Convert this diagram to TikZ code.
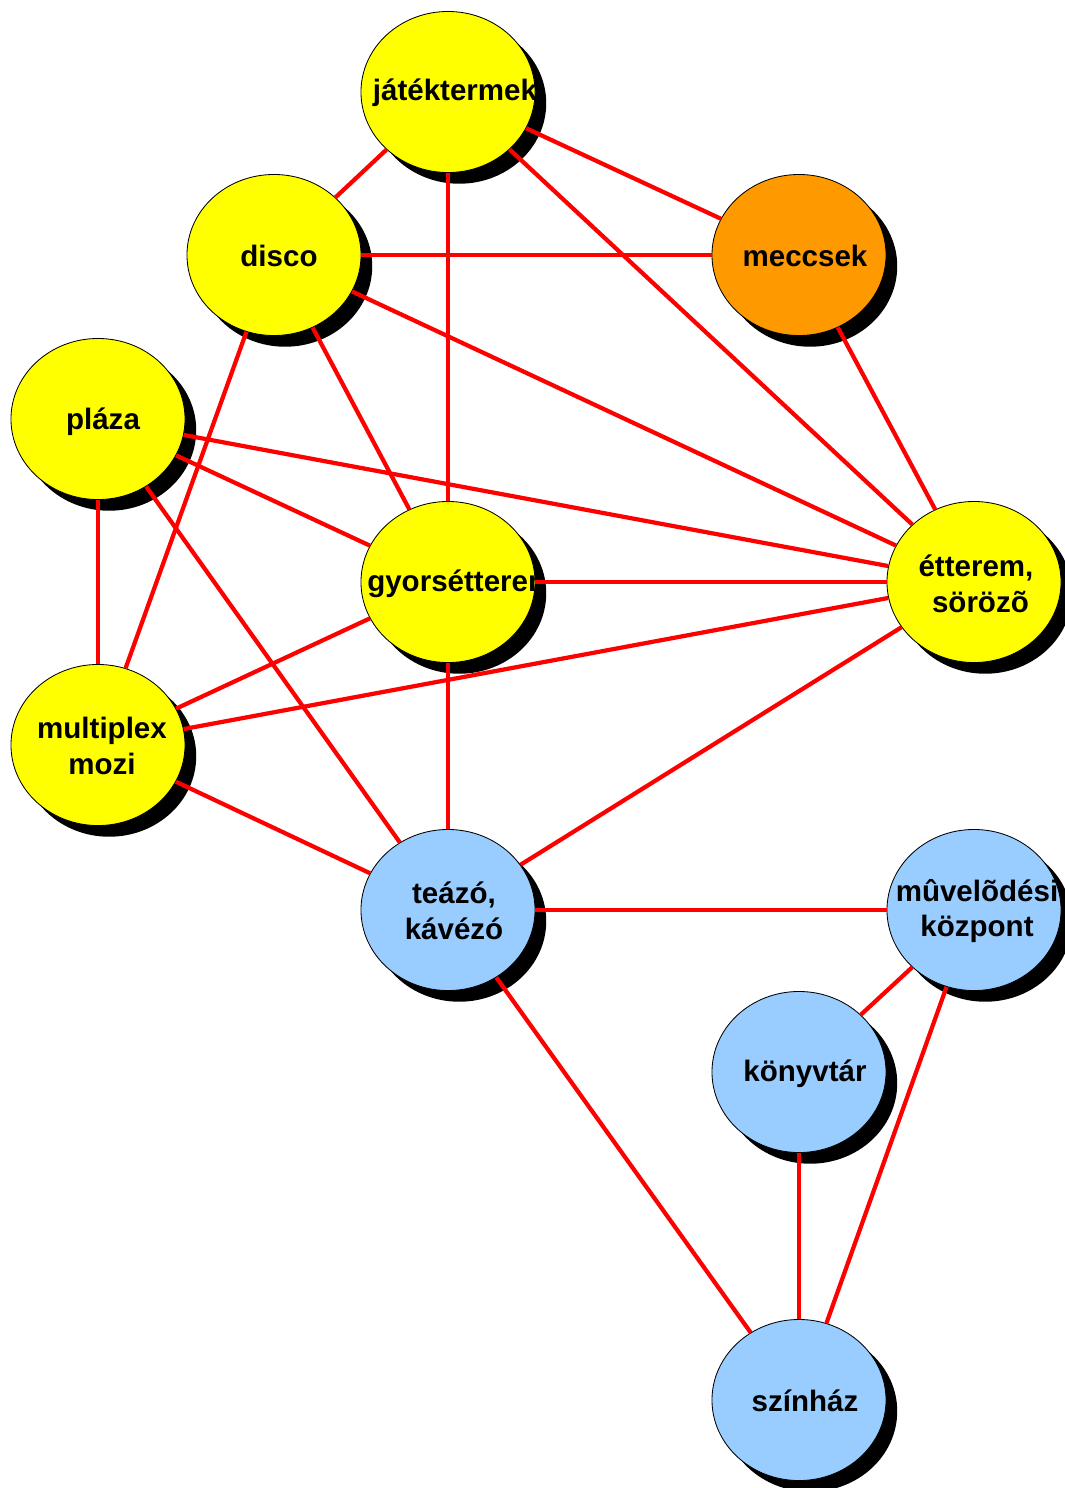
\documentclass[tikz,border=0pt]{standalone}
\usepackage{fontspec}
\setmainfont{Liberation Sans}
\definecolor{placeyellow}{RGB}{255, 255, 0}
\definecolor{placeorange}{RGB}{255, 153, 0}
\definecolor{placeblue}{RGB}{153, 204, 255}
\usetikzlibrary{shapes.geometric, shadows}

\begin{document}
\begin{tikzpicture}[x=0.025cm, y=-0.025cm]
  \tikzstyle{place} = [ellipse, draw, line width=0.6pt, minimum width=4.35cm, minimum height=4.025cm, inner sep=0pt,
    drop shadow={shadow xshift=0.28cm, shadow yshift=-0.28cm, fill=black, opacity=1}]
  \tikzstyle{placelbl} = [align=center, inner sep=0pt, font=\bfseries\fontsize{21}{25.5}\selectfont]
  \tikzstyle{line} = [draw, red, line width=3pt]

  \useasboundingbox (0,0) rectangle (1065,1488);

  % places
  \node [place, fill=placeyellow] (jatek) at (448,92) {};
  \node [place, fill=placeyellow] (disco) at (274,255) {};
  \node [place, fill=placeorange] (meccs) at (799,255) {};
  \node [place, fill=placeyellow] (plaza) at (98,419) {};
  \node [place, fill=placeyellow] (gyors) at (448,582) {};
  \node [place, fill=placeyellow] (etter) at (974,582) {};
  \node [place, fill=placeyellow] (multi) at (98,745) {};
  \node [place, fill=placeblue] (teazo) at (448,910) {};
  \node [place, fill=placeblue] (muvel) at (974,910) {};
  \node [place, fill=placeblue] (konyv) at (799,1072) {};
  \node [place, fill=placeblue] (szinh) at (799,1400) {};

  % labels
  \node [placelbl] (jateklbl) at (455,93) {játéktermek};
  \node [placelbl] (discolbl) at (279,256) {disco};
  \node [placelbl] (meccslbl) at (805,256) {meccsek};
  \node [placelbl] (plazalbl) at (103,422) {pláza};
  \begin{scope}
    \clip (340,530) rectangle (540,640);
    \node [placelbl, anchor=west] (gyorslbl) at (367,584) {gyorsétterem};
  \end{scope}
  \node [placelbl] (etterlbl) at (976,584) {étterem,\\\hspace*{0.3em}sörözõ};
  \node [placelbl] (multilbl) at (102,746) {multiplex\\mozi};
  \node [placelbl] (teazolbl) at (454,911) {teázó,\\kávézó};
  \node [placelbl] (muvellbl) at (977,911) {mûvelõdési\\központ};
  \node [placelbl] (konyvlbl) at (805,1074) {könyvtár};
  \node [placelbl] (szinhlbl) at (805,1401) {színház};

  % connections
  \path [line] (jatek) -- (disco);
  \path [line] (jatek) -- (meccs);
  \path [line] (jatek) -- (gyors);
  \path [line] (jatek) -- (etter);
  \path [line] (disco) -- (meccs);
  \path [line] (disco) -- (etter);
  \path [line] (disco) -- (gyors);
  \path [line] (disco) -- (multi);
  \path [line] (meccs) -- (etter);
  \path [line] (plaza) -- (etter);
  \path [line] (plaza) -- (gyors);
  \path [line] (plaza) -- (multi);
  \path [line] (plaza) -- (teazo);
  \path [line] (gyors) -- (etter);
  \path [line] (gyors) -- (multi);
  \path [line] (gyors) -- (teazo);
  \path [line] (etter) -- (multi);
  \path [line] (etter) -- (teazo);
  \path [line] (multi) -- (teazo);
  \path [line] (teazo) -- (muvel);
  \path [line] (teazo) -- (szinh);
  \path [line] (muvel) -- (konyv);
  \path [line] (muvel) -- (szinh);
  \path [line] (konyv) -- (szinh);
\end{tikzpicture}
\end{document}
